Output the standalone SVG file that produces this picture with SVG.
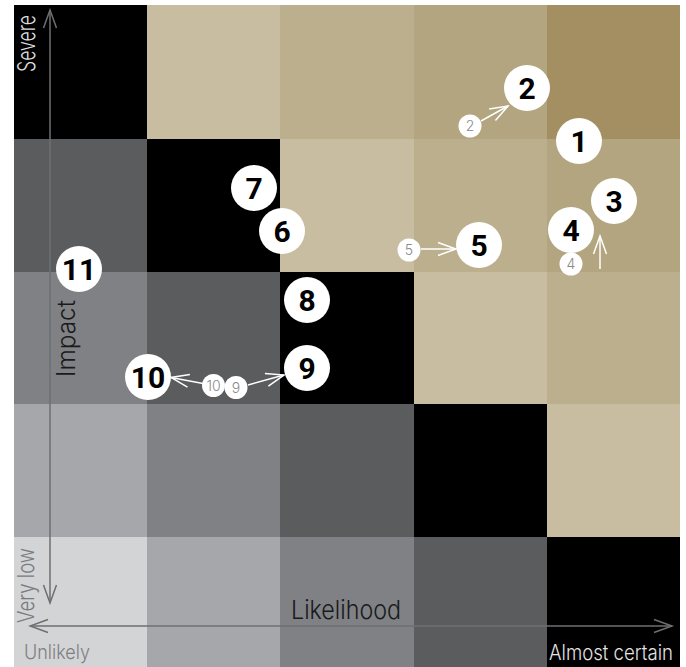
<svg xmlns="http://www.w3.org/2000/svg" width="686" height="667" viewBox="0 0 686 667">
<style>
.big circle{fill:#fff}
.big text{font-family:Roboto,"Liberation Sans",sans-serif;font-weight:700;font-size:30px;fill:#000;text-anchor:middle}
.small circle{fill:#fff}
.small text{font-family:Inter,"Open Sans","Liberation Sans",sans-serif;font-weight:300;font-size:14px;fill:#8a8a8a;text-anchor:middle}
.lbl{font-family:Inter,"Open Sans","Liberation Sans",sans-serif;font-weight:300}
.ax{stroke:#6e6f72;stroke-width:1.5;fill:none}
.wa{stroke:#fff;stroke-width:1.5;fill:none}
</style>
<defs>
<marker id="ga" markerUnits="userSpaceOnUse" markerWidth="24" markerHeight="20" refX="18" refY="8" orient="auto" viewBox="-2 -2 24 20"><path d="M0,1.5 L18,8 L0,14.5" fill="none" stroke="#6e6f72" stroke-width="1.5"/></marker>
<marker id="gs" markerUnits="userSpaceOnUse" markerWidth="24" markerHeight="20" refX="0" refY="8" orient="auto" viewBox="-2 -2 24 20"><path d="M18,1.5 L0,8 L18,14.5" fill="none" stroke="#6e6f72" stroke-width="1.5"/></marker>
<marker id="wa" markerUnits="userSpaceOnUse" markerWidth="24" markerHeight="20" refX="18" refY="8" orient="auto" viewBox="-2 -2 24 20"><path d="M0,1.5 L18,8 L0,14.5" fill="none" stroke="#fff" stroke-width="1.5"/></marker>
</defs>
<g id="grid">
<rect x="14" y="5" width="133" height="134" fill="#000"/>
<rect x="147" y="5" width="133" height="134" fill="#c8bda0"/>
<rect x="280" y="5" width="134" height="134" fill="#bcaf8d"/>
<rect x="414" y="5" width="133" height="134" fill="#b2a57f"/>
<rect x="547" y="5" width="133" height="134" fill="#a38f62"/>
<rect x="14" y="139" width="133" height="133" fill="#5b5c5e"/>
<rect x="147" y="139" width="133" height="133" fill="#000"/>
<rect x="280" y="139" width="134" height="133" fill="#c8bda0"/>
<rect x="414" y="139" width="133" height="133" fill="#bcaf8d"/>
<rect x="547" y="139" width="133" height="133" fill="#b2a57f"/>
<rect x="14" y="272" width="133" height="132" fill="#808185"/>
<rect x="147" y="272" width="133" height="132" fill="#5b5c5e"/>
<rect x="280" y="272" width="134" height="132" fill="#000"/>
<rect x="414" y="272" width="133" height="132" fill="#c8bda0"/>
<rect x="547" y="272" width="133" height="132" fill="#bcaf8d"/>
<rect x="14" y="404" width="133" height="133" fill="#a6a7ab"/>
<rect x="147" y="404" width="133" height="133" fill="#808185"/>
<rect x="280" y="404" width="134" height="133" fill="#5b5c5e"/>
<rect x="414" y="404" width="133" height="133" fill="#000"/>
<rect x="547" y="404" width="133" height="133" fill="#c8bda0"/>
<rect x="14" y="537" width="133" height="130" fill="#d3d4d6"/>
<rect x="147" y="537" width="133" height="130" fill="#a6a7ab"/>
<rect x="280" y="537" width="134" height="130" fill="#808185"/>
<rect x="414" y="537" width="133" height="130" fill="#5b5c5e"/>
<rect x="547" y="537" width="133" height="130" fill="#000"/>
</g>
<g id="axes">
<line class="ax" x1="50" y1="603" x2="50" y2="10" marker-end="url(#ga)" marker-start="url(#gs)"/>
<line class="ax" x1="30" y1="626" x2="672" y2="626" marker-end="url(#ga)" marker-start="url(#gs)"/>
<text class="lbl" transform="translate(35,72) rotate(-90)" font-size="24" fill="#dcdcdc" textLength="57" lengthAdjust="spacingAndGlyphs">Severe</text>
<text class="lbl" transform="translate(34,623) rotate(-90)" font-size="23" fill="#7a7b7e" textLength="75" lengthAdjust="spacingAndGlyphs">Very low</text>
<text class="lbl" transform="translate(75,377) rotate(-90)" font-size="25" fill="#1a1a1a" textLength="77" lengthAdjust="spacingAndGlyphs">Impact</text>
<text class="lbl" x="291" y="619" font-size="26" fill="#1a1a1a" textLength="110" lengthAdjust="spacingAndGlyphs">Likelihood</text>
<text class="lbl" x="24" y="659" font-size="20" fill="#7d7e81" textLength="66" lengthAdjust="spacingAndGlyphs">Unlikely</text>
<text class="lbl" x="549" y="660" font-size="21" fill="#e4e4e4" textLength="124" lengthAdjust="spacingAndGlyphs">Almost certain</text>
</g>
<g id="connectors">
<line class="wa" x1="481" y1="121" x2="508" y2="106" marker-end="url(#wa)"/>
<line class="wa" x1="421" y1="249" x2="456" y2="249" marker-end="url(#wa)"/>
<line class="wa" x1="600" y1="269" x2="600" y2="236" marker-end="url(#wa)"/>
<line class="wa" x1="203" y1="383.5" x2="171" y2="377.5" marker-end="url(#wa)"/>
<line class="wa" x1="248" y1="385" x2="284" y2="375" marker-end="url(#wa)"/>
</g>
<g id="s2" class="small"><circle cx="470" cy="126" r="11.5"/><text x="470" y="131">2</text></g>
<g id="s5" class="small"><circle cx="409" cy="250" r="11.5"/><text x="409" y="255">5</text></g>
<g id="s4" class="small"><circle cx="571" cy="264" r="11.5"/><text x="571" y="269">4</text></g>
<g id="s10" class="small"><circle cx="213.5" cy="385.5" r="11.5"/><text x="213.5" y="390.5">10</text></g>
<g id="s9" class="small"><circle cx="236" cy="387.5" r="11.5"/><text x="236" y="392.5">9</text></g>
<g id="n1" class="big"><circle cx="579" cy="141" r="23"/><text x="579" y="152">1</text></g>
<g id="n2" class="big"><circle cx="527" cy="88" r="23"/><text x="527" y="99">2</text></g>
<g id="n3" class="big"><circle cx="614" cy="201" r="23"/><text x="614" y="212">3</text></g>
<g id="n4" class="big"><circle cx="571" cy="230" r="23"/><text x="571" y="241">4</text></g>
<g id="n5" class="big"><circle cx="479" cy="245" r="23"/><text x="479" y="256">5</text></g>
<g id="n6" class="big"><circle cx="282" cy="231" r="23"/><text x="282" y="242">6</text></g>
<g id="n7" class="big"><circle cx="254" cy="188" r="23"/><text x="254" y="199">7</text></g>
<g id="n8" class="big"><circle cx="307" cy="300" r="23"/><text x="307" y="311">8</text></g>
<g id="n9" class="big"><circle cx="307" cy="368" r="23"/><text x="307" y="379">9</text></g>
<g id="n10" class="big"><circle cx="148" cy="377" r="23"/><text x="148" y="388">10</text></g>
<g id="n11" class="big"><circle cx="79" cy="269" r="23"/><text x="79" y="280">11</text></g>
</svg>
